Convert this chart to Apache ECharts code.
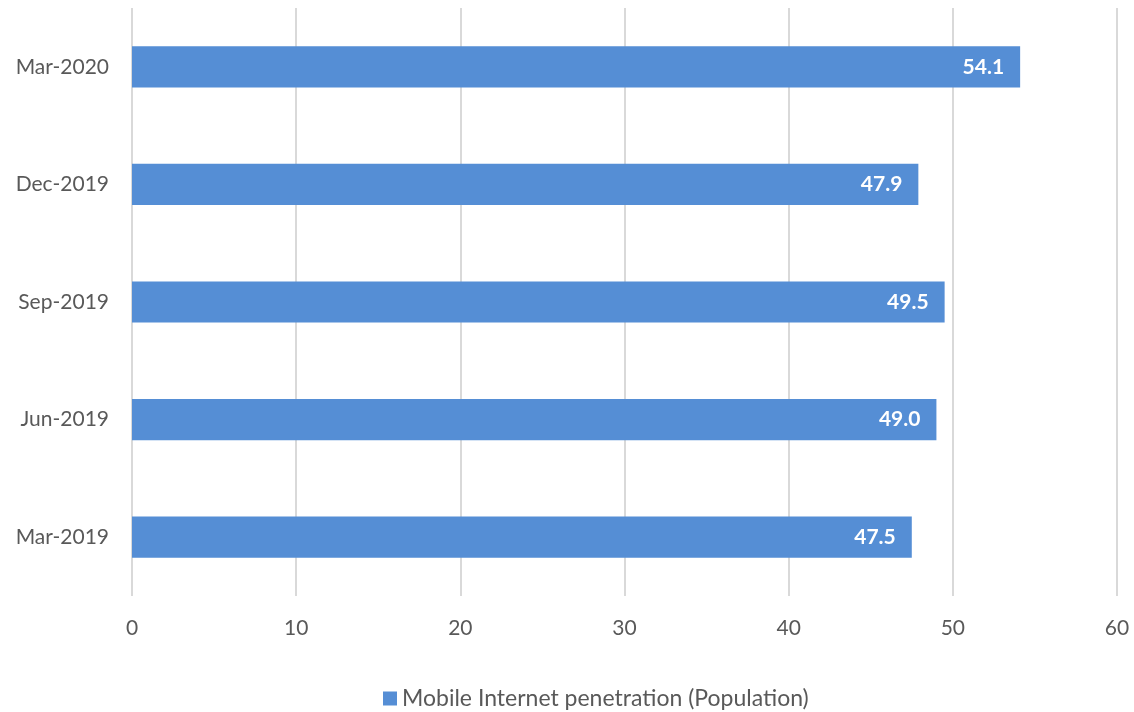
<!DOCTYPE html>
<html>
<head>
<meta charset="utf-8">
<script src="https://cdn.jsdelivr.net/npm/echarts@6/dist/echarts.min.js"></script>
<style>
  html, body { margin: 0; padding: 0; background: #fff; }
  #chart { width: 1134px; height: 712px; }
</style>
</head>
<body>
<div id="chart"></div>
<script>
// Quarterly mobile internet penetration, bottom-to-top order
const categories = ['Mar-2019', 'Jun-2019', 'Sep-2019', 'Dec-2019', 'Mar-2020'];
const penetration = [47.5, 49.0, 49.5, 47.9, 54.1];
const seriesName = 'Mobile Internet penetration (Population)';
const xTicks = { min: 0, max: 60, interval: 10 };

const FONT = 'Lato, "Open Sans", sans-serif';
const chart = echarts.init(document.getElementById('chart'));

chart.setOption({
  animation: false,
  textStyle: { fontFamily: FONT },
  grid: { left: 132, right: 17, top: 8, bottom: 116, containLabel: false },
  legend: {
    top: 687,
    left: 383,
    padding: 0,
    itemWidth: 14,
    itemHeight: 14,
    itemGap: 7,
    icon: 'rect',
    textStyle: { color: '#595959', fontSize: 23, fontFamily: FONT },
    data: [seriesName]
  },
  xAxis: {
    type: 'value',
    min: xTicks.min,
    max: xTicks.max,
    interval: xTicks.interval,
    axisLine: { show: false },
    axisTick: { show: false },
    axisLabel: { color: '#595959', fontSize: 21, margin: 22, fontFamily: FONT },
    splitLine: { show: true, lineStyle: { color: '#d9d9d9', width: 2 } }
  },
  yAxis: {
    type: 'category',
    data: categories,
    axisLine: { show: false },
    axisTick: { show: false },
    axisLabel: { color: '#595959', fontSize: 21, margin: 23, fontFamily: FONT },
    splitLine: { show: false }
  },
  series: [{
    name: seriesName,
    type: 'bar',
    data: penetration,
    barWidth: '35%',
    itemStyle: { color: '#558ed5' },
    label: {
      show: true,
      position: 'insideRight',
      distance: 16,
      color: '#ffffff',
      fontWeight: 'bold',
      fontSize: 21,
      fontFamily: FONT,
      formatter: p => p.value.toFixed(1)
    }
  }]
});
</script>
</body>
</html>
